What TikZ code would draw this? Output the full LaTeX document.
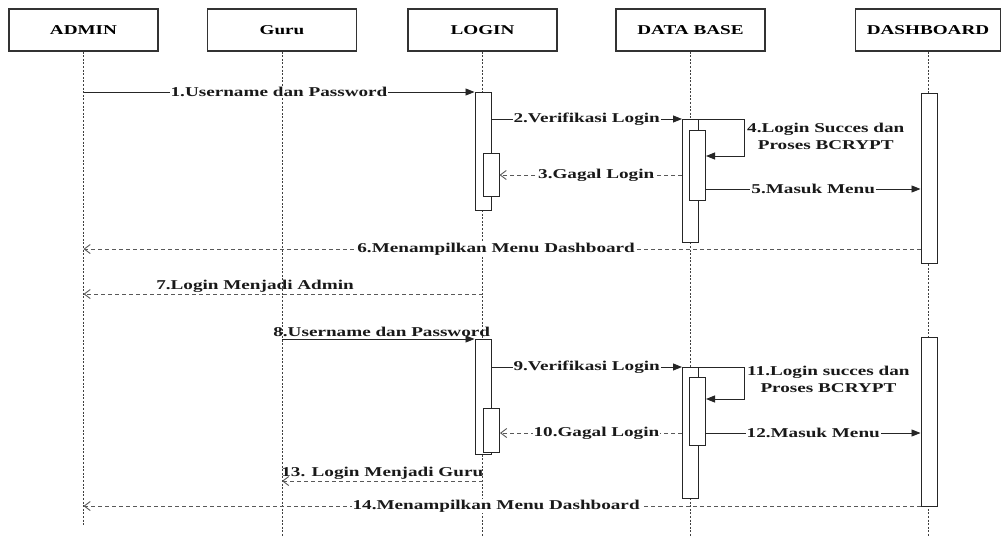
\documentclass[tikz,border=0pt]{standalone}
\usepackage{fontspec}
\setmainfont{Liberation Serif}[FakeStretch=1.42]
\usetikzlibrary{arrows.meta}
\newcommand{\seqfont}{\fontsize{13.5}{17}\selectfont\bfseries}
\begin{document}
\begin{tikzpicture}[x=1pt,y=-1pt,
  head/.style={draw=black!80, line width=1.1pt, fill=white, minimum width=149pt,
    minimum height=42pt, inner sep=0pt, text depth=0pt, font=\seqfont},
  life/.style={draw=black!75, line width=0.8pt, dash pattern=on 2pt off 1.6pt},
  act/.style={draw=black!85, line width=1pt, fill=white, minimum width=16pt,
    inner sep=0pt, anchor=north},
  msg/.style={draw=black!85, line width=0.9pt, -{Triangle[length=9pt,width=7pt]}},
  ret/.style={draw=black!65, line width=0.9pt, dash pattern=on 4pt off 3pt,
    -{Straight Barb[length=6pt,width=9pt]}},
  lbl/.style={font=\seqfont, fill=white, inner sep=1pt, text=black!90},
  toplbl/.style={font=\seqfont, inner sep=1.5pt, text=black!90, above},
  looplbl/.style={font=\seqfont, inner sep=1pt, text=black!90, align=center, anchor=west}]

\useasboundingbox (0,0) rectangle (1001,536);
\fill[white] (0,0) rectangle (1001,536);

% participants
\node[head] (admin) at (83.5,30) {ADMIN};
\node[head] (guru)  at (282,30)  {Guru};
\node[head] (login) at (482.5,30) {LOGIN};
\node[head] (db)    at (690.5,30) {DATA BASE};
\node[head, minimum width=145pt] (dash) at (928,30) {DASHBOARD};

% message rows and lifeline ends
\coordinate (endA) at (0,525);
\coordinate (endB) at (0,536);
\coordinate (r5)  at (0,189);
\coordinate (r6)  at (0,249);
\coordinate (r7)  at (0,294);
\coordinate (r10) at (0,433);
\coordinate (r12) at (0,433);
\coordinate (r13) at (0,481);
\coordinate (r14) at (0,506);

% lifelines
\draw[life] (admin.south) -- (admin.south |- endA);
\draw[life] (guru.south)  -- (guru.south |- endB);
\draw[life] (login.south) -- (login.south |- endB);
\draw[life] (db.south)    -- (db.south |- endB);
\draw[life] (dash.south)  -- (dash.south |- endB);

% activation bars, first session
\node[act, minimum height=118pt] (la1) at (483,92) {};
\node[act, minimum height=43pt]  (ln1) at (491,153) {};
\node[act, minimum height=123pt] (da1) at (690.5,119) {};
\node[act, minimum height=70pt]  (dn1) at (697.5,130) {};
\node[act, minimum height=170pt] (ka1) at (929,93) {};

% activation bars, second session
\node[act, minimum height=115pt] (la2) at (483,339) {};
\node[act, minimum height=44pt]  (ln2) at (491.5,408) {};
\node[act, minimum height=131pt] (da2) at (690.5,367) {};
\node[act, minimum height=68pt]  (dn2) at (697.5,377) {};
\node[act, minimum height=169pt] (ka2) at (929,337) {};

% admin login
\draw[msg] (admin.south |- la1.north) -- node[lbl, midway] {1.Username dan Password} (la1.north west);
\draw[msg] (la1.east |- da1.north) -- node[lbl, midway] {2.Verifikasi Login} (da1.north west);
\draw[msg] (da1.north east) -- ++(45,0) |- ([yshift=-26pt]dn1.north east);
\node[looplbl] (t4) at ([xshift=47pt,yshift=-17pt]da1.north east) {4.Login Succes dan\\Proses BCRYPT};
\draw[ret] (da1.west |- ln1.east) -- node[lbl, pos=0.47] {3.Gagal Login} (ln1.east);
\draw[msg] (dn1.east |- r5) -- node[lbl, midway] {5.Masuk Menu} (ka1.west |- r5);
\draw[ret] (ka1.west |- r6) -- node[lbl, pos=0.507] {6.Menampilkan Menu Dashboard} (admin.south |- r6);
\draw[ret] (login.south |- r7) -- node[toplbl, pos=0.57] {7.Login Menjadi Admin} (admin.south |- r7);

% guru login
\draw[msg] (guru.south |- la2.north) -- node[toplbl, pos=0.518] {8.Username dan Password} (la2.north west);
\draw[msg] (la2.east |- da2.north) -- node[lbl, midway] {9.Verifikasi Login} (da2.north west);
\draw[msg] (da2.north east) -- ++(45,0) |- ([yshift=-22pt]dn2.north east);
\node[looplbl] (t11) at ([xshift=47pt,yshift=-12.5pt]da2.north east) {11.Login succes dan\\Proses BCRYPT};
\draw[ret] (da2.west |- r10) -- node[lbl, pos=0.47] {10.Gagal Login} (ln2.east |- r10);
\draw[msg] (dn2.east |- r12) -- node[lbl, midway] {12.Masuk Menu} (ka2.west |- r12);
\draw[ret] (login.south |- r13) -- node[toplbl, midway] {13. Login Menjadi Guru} (guru.south |- r13);
\draw[ret] (ka2.west |- r14) -- node[lbl, pos=0.507] {14.Menampilkan Menu Dashboard} (admin.south |- r14);

\end{tikzpicture}
\end{document}
